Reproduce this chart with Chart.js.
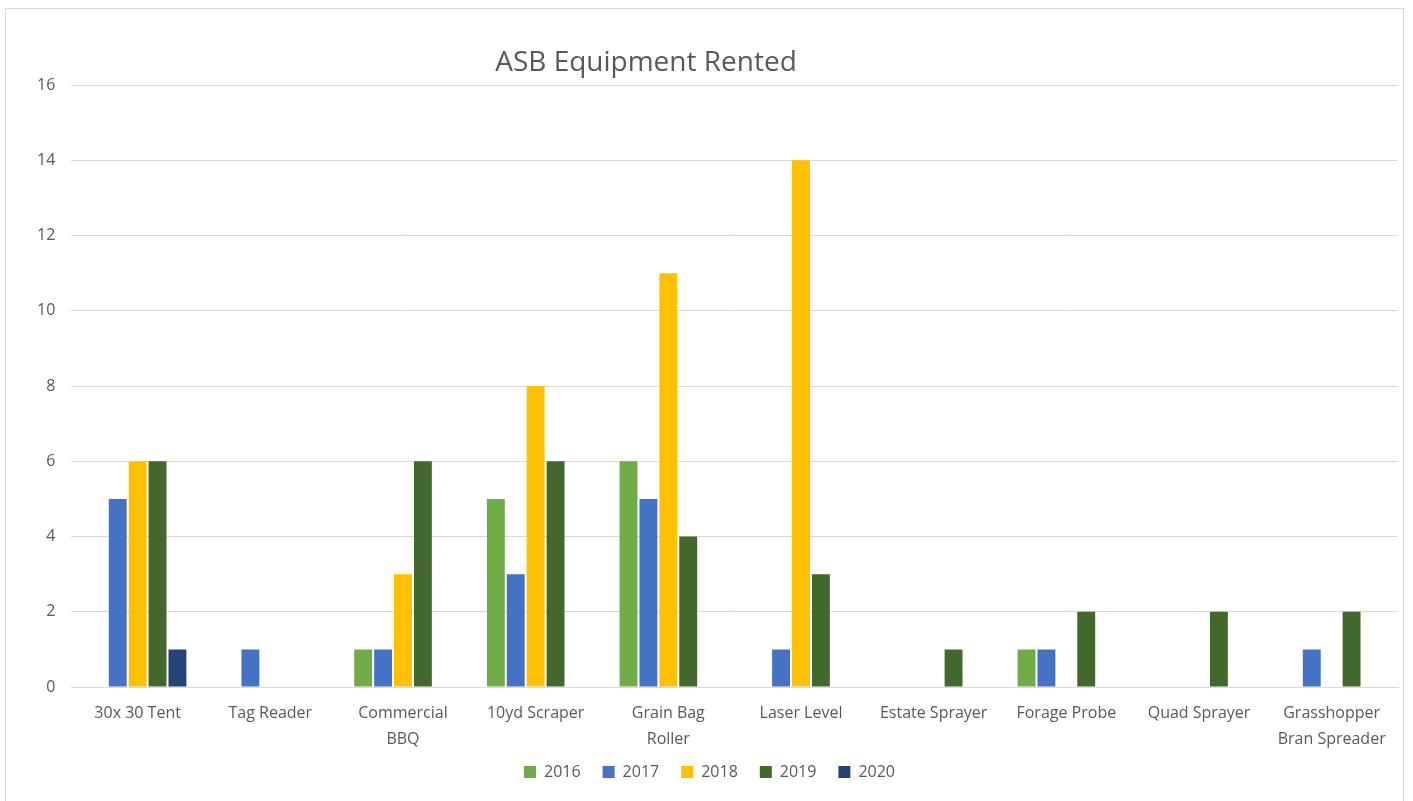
<!DOCTYPE html>
<html>
<head>
<meta charset="utf-8">
<script src="https://cdn.jsdelivr.net/npm/chart.js@4"></script>
<style>
  html, body { margin: 0; padding: 0; background: #fff; }
  #wrap { position: relative; width: 1413px; height: 801px; }
  #frame { position: absolute; left: 5px; top: 8px; width: 1399px; height: 800px; border: 1px solid #d9d9d9; box-sizing: border-box; }
  #title { position: absolute; left: 0; width: 1292px; top: 41px; text-align: center;
           font-family: "Open Sans", sans-serif; font-size: 28px; color: #595959; }
  canvas { position: absolute; left: 0; top: 0; }
</style>
</head>
<body>
<div id="wrap">
  <div id="frame"></div>
  <canvas id="rentChart" width="1413" height="801"></canvas>
  <div id="title">ASB Equipment Rented</div>
</div>
<script>
// Categories and series
const categories = [
  '30x 30 Tent', 'Tag Reader', ['Commercial', 'BBQ'], '10yd Scraper', ['Grain Bag', 'Roller'],
  'Laser Level', 'Estate Sprayer', 'Forage Probe', 'Quad Sprayer', ['Grasshopper', 'Bran Spreader']
];
const years = ['2016', '2017', '2018', '2019', '2020'];
const rented2016 = [0, 0, 1, 5, 6, 0, 0, 1, 0, 0];
const rented2017 = [5, 1, 1, 3, 5, 1, 0, 1, 0, 1];
const rented2018 = [6, 0, 3, 8, 11, 14, 0, 0, 0, 0];
const rented2019 = [6, 0, 6, 6, 4, 3, 1, 2, 2, 2];
const rented2020 = [1, 0, 0, 0, 0, 0, 0, 0, 0, 0];
const yTicks = [0, 2, 4, 6, 8, 10, 12, 14, 16];

const colors = ['#70AD47', '#4472C4', '#FFC000', '#43682B', '#264478'];
const series = [rented2016, rented2017, rented2018, rented2019, rented2020];

const font = { family: '"Open Sans", sans-serif', size: 16 };
const textColor = '#595959';

const ctx = document.getElementById('rentChart').getContext('2d');
const rentChart = new Chart(ctx, {
  type: 'bar',
  data: {
    labels: categories,
    datasets: series.map((data, i) => ({
      label: years[i],
      data: data,
      backgroundColor: colors[i],
      borderWidth: 0,
      barPercentage: 0.9,
      categoryPercentage: 0.75
    }))
  },
  options: {
    responsive: false,
    animation: false,
    layout: { padding: { left: 21, right: 15, top: 85, bottom: 11 } },
    plugins: {
      title: { display: false },
      tooltip: { enabled: false },
      legend: {
        position: 'bottom',
        labels: {
          boxWidth: 12,
          boxHeight: 12,
          padding: 22,
          color: textColor,
          font: font
        }
      }
    },
    scales: {
      x: {
        grid: { display: false, drawTicks: false },
        border: { color: '#d9d9d9', width: 1 },
        ticks: {
          color: textColor,
          font: Object.assign({}, font, { lineHeight: 1.625 }),
          maxRotation: 0,
          autoSkip: false,
          padding: 13
        },
        // fixed label band; let the second label line run past it (no clipping)
        afterFit: scale => {
          scale.height = 55;
          scale._computeLabelArea = () => undefined;
        }
      },
      y: {
        min: 0,
        max: 16,
        afterBuildTicks: axis => { axis.ticks = yTicks.map(v => ({ value: v })); },
        grid: { color: '#d9d9d9', drawTicks: false },
        border: { display: false },
        ticks: {
          color: textColor,
          font: font,
          padding: 16
        }
      }
    }
  }
});
</script>
</body>
</html>
